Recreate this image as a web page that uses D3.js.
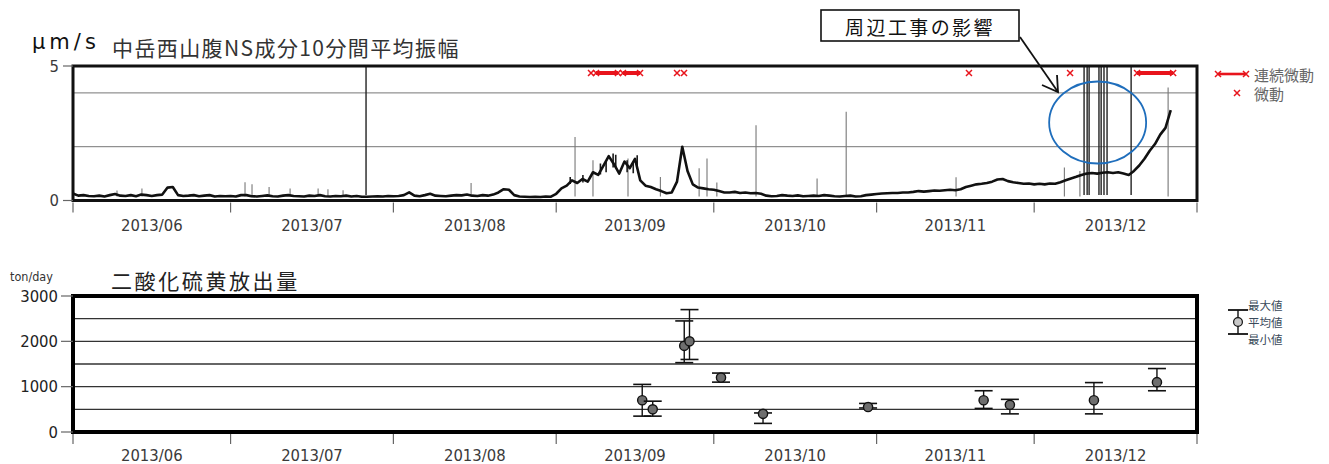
<!DOCTYPE html>
<html>
<head>
<meta charset="utf-8">
<script src="https://cdn.jsdelivr.net/npm/d3@7"></script>
<style>
    body { margin: 0; background: #fff; }
    svg { display: block; font-family: "DejaVu Sans Condensed", "DejaVu Sans", sans-serif; }
    .jp { font-family: "Noto Sans CJK JP", sans-serif; }
</style>
</head>
<body>
<svg id="chart" width="1329" height="464"></svg>
<script>
// month boundaries and labels
const monthTicks = ["2013-06-01", "2013-07-01", "2013-08-01", "2013-09-01", "2013-10-01", "2013-11-01", "2013-12-01", "2014-01-01"];
const monthLabels = ["2013/06", "2013/07", "2013/08", "2013/09", "2013/10", "2013/11", "2013/12"];

// daily level of the 10-min mean amplitude (um/s)
const ampJun = [0.26, 0.18, 0.2, 0.17, 0.16, 0.18, 0.15, 0.2, 0.24, 0.18, 0.17, 0.2, 0.16, 0.22, 0.2, 0.17, 0.2, 0.22, 0.48, 0.5,
    0.2, 0.17, 0.18, 0.2, 0.16, 0.18, 0.2, 0.15, 0.17, 0.16];
const ampJul = [0.17, 0.15, 0.2, 0.2, 0.16, 0.15, 0.17, 0.19, 0.16, 0.15, 0.18, 0.2, 0.17, 0.16, 0.15, 0.18, 0.17, 0.2, 0.16, 0.15,
    0.17, 0.16, 0.18, 0.15, 0.17, 0.14, 0.14, 0.15, 0.16, 0.15, 0.17];
const ampAug = [0.16, 0.17, 0.2, 0.3, 0.18, 0.16, 0.2, 0.25, 0.18, 0.17, 0.16, 0.18, 0.2, 0.19, 0.22, 0.18, 0.17, 0.2, 0.18, 0.22,
    0.3, 0.42, 0.4, 0.2, 0.15, 0.14, 0.13, 0.14, 0.13, 0.15, 0.14];
const ampSep = [0.25, 0.45, 0.55, 0.75, 0.65, 0.8, 0.7, 1.05, 0.95, 1.3, 1.65, 1.35, 1.0, 1.45, 1.2, 1.55, 0.75, 0.55, 0.5, 0.42,
    0.35, 0.27, 0.3, 0.7, 2.0, 1.1, 0.6, 0.48, 0.45, 0.42];
const ampOct = [0.4, 0.35, 0.3, 0.3, 0.32, 0.28, 0.3, 0.27, 0.28, 0.25, 0.18, 0.16, 0.17, 0.2, 0.18, 0.17, 0.19, 0.16, 0.17, 0.18,
    0.17, 0.2, 0.18, 0.16, 0.15, 0.17, 0.18, 0.15, 0.16, 0.2, 0.22];
const ampNov = [0.24, 0.26, 0.27, 0.28, 0.28, 0.3, 0.3, 0.32, 0.35, 0.33, 0.35, 0.37, 0.36, 0.38, 0.4, 0.38, 0.42, 0.5, 0.55, 0.6,
    0.62, 0.65, 0.7, 0.78, 0.8, 0.72, 0.68, 0.65, 0.62, 0.63];
const ampDec = [0.6, 0.62, 0.6, 0.63, 0.62, 0.68, 0.75, 0.82, 0.88, 0.95, 1.0, 1.02, 1.0, 1.03, 1.05, 1.02, 1.05, 1.0, 0.95, 1.1,
    1.3, 1.55, 1.85, 2.1, 2.45, 2.7, 3.36];

// short isolated spikes (thin grey)
const ampSpikes = [
    ["2013-06-09T09", 0.37], ["2013-06-14T03", 0.45], ["2013-07-03T18", 0.68], ["2013-07-05T02", 0.6],
    ["2013-07-08T08", 0.5], ["2013-07-12T08", 0.45], ["2013-07-17T16", 0.45], ["2013-07-19T13", 0.42],
    ["2013-07-22T10", 0.38], ["2013-08-15T19", 0.65], ["2013-09-04T14", 2.36], ["2013-09-08T00", 1.5],
    ["2013-09-14T16", 1.56], ["2013-09-20T20", 0.87], ["2013-09-28T05", 1.2], ["2013-09-29T17", 1.56],
    ["2013-10-01T14", 0.67], ["2013-10-09T01", 2.8], ["2013-10-20T16", 0.82], ["2013-10-26T05", 3.3],
    ["2013-11-16T03", 0.86], ["2013-12-06T18", 1.23], ["2013-12-09T17", 1.1], ["2013-12-26T12", 4.2]
];
// short bursts inside the active band (dark)
const ampBursts = [
    ["2013-09-03T16", 0.87], ["2013-09-06T02", 0.95], ["2013-09-09T10", 1.38], ["2013-09-10T12", 1.5],
    ["2013-09-11T20", 1.75], ["2013-09-12T08", 1.7], ["2013-09-14T12", 1.5], ["2013-09-15T16", 1.45],
    ["2013-09-16T10", 1.68]
];
// off-scale values (clipped at the top)
const ampOffScale = ["2013-07-26T19", "2013-12-10T12", "2013-12-11T02", "2013-12-11T11", "2013-12-13T08",
    "2013-12-13T18", "2013-12-14T07", "2013-12-14T21", "2013-12-19T11"];

// tremor events
const tremorPoints = ["2013-09-07T15", "2013-09-24T00", "2013-09-25T08", "2013-11-18T14", "2013-12-07T20"];
const tremorSpans = [["2013-09-08T14", "2013-09-12T18"], ["2013-09-13T17", "2013-09-16T23"], ["2013-12-20T14", "2013-12-27T11"]];

// SO2 emission (ton/day)
const so2Dates = ["2013-09-17T09", "2013-09-19T09", "2013-09-25T09", "2013-09-26T09", "2013-10-02T09", "2013-10-10T09", "2013-10-30T09",
    "2013-11-21T09", "2013-11-26T09", "2013-12-12T09", "2013-12-24T09"];
const so2Mean = [700, 500, 1900, 2000, 1200, 400, 550, 700, 600, 700, 1100];
const so2Max = [1050, 680, 2450, 2700, 1300, 420, 630, 910, 720, 1090, 1400];
const so2Min = [350, 350, 1530, 1600, 1100, 190, 530, 520, 400, 400, 910];

const ampTicks = [0, 5];
const ampGrid = [2, 4];
const so2Ticks = [0, 1000, 2000, 3000];
const so2Grid = [500, 1000, 1500, 2000, 2500];

const ctx = {
    LEFT: 73, RIGHT: 1197,
    TOP1: 66, BOT1: 200.5,
    TOP2: 296, BOT2: 432,
    RED: "#e8141c",
    TEXT: "#3a3a3a",
};

const svg = d3.select('#chart');
const parseDay = d3.timeParse("%Y-%m-%d");
const parseHour = d3.timeParse("%Y-%m-%dT%H");
function parseT(s) {
    return s.length > 10 ? parseHour(s) : parseDay(s);
}

const x = d3.scaleTime()
    .domain([parseT(monthTicks[0]), parseT(monthTicks[monthTicks.length - 1])])
    .range([ctx.LEFT, ctx.RIGHT]);
const y1 = d3.scaleLinear().domain([0, 5]).range([ctx.BOT1, ctx.TOP1]);
const y2 = d3.scaleLinear().domain([0, 3000]).range([ctx.BOT2, ctx.TOP2]);
const cross = "M-3,-3L3,3M-3,3L3,-3";

main();

function main() {
    drawMonthAxis(ctx.BOT1, 225);
    drawMonthAxis(ctx.BOT2, 455);
    drawAmplitude();
    drawSO2();
    drawCallout();
}

function drawMonthAxis(yBase, yLabel) {
    const g = svg.append("g");
    g.selectAll("line.mtick")
        .data(monthTicks)
        .enter().append("line")
        .attr("x1", d => x(parseT(d))).attr("x2", d => x(parseT(d)))
        .attr("y1", yBase + 2).attr("y2", yBase + 12)
        .attr("stroke", "#666").attr("stroke-width", 1.2);

    g.selectAll("text.mlab")
        .data(monthLabels)
        .enter().append("text")
        .attr("x", (d, i) => (x(parseT(monthTicks[i])) + x(parseT(monthTicks[i + 1]))) / 2)
        .attr("y", yLabel)
        .attr("text-anchor", "middle")
        .attr("dominant-baseline", "central")
        .attr("font-size", "16.5px")
        .attr("fill", ctx.TEXT)
        .text(d => d);
}

function drawAmplitude() {
    const allMonths = [ampJun, ampJul, ampAug, ampSep, ampOct, ampNov, ampDec];
    const start = parseT(monthTicks[0]);
    const series = [].concat(...allMonths).map((v, i) => ({ date: d3.timeDay.offset(start, i), v: v }));

    svg.append("clipPath").attr("id", "clip1")
        .append("rect")
        .attr("x", ctx.LEFT).attr("y", ctx.TOP1)
        .attr("width", ctx.RIGHT - ctx.LEFT).attr("height", ctx.BOT1 - ctx.TOP1);

    // grid
    svg.selectAll("line.grid1")
        .data(ampGrid)
        .enter().append("line")
        .attr("x1", ctx.LEFT).attr("x2", ctx.RIGHT)
        .attr("y1", d => y1(d)).attr("y2", d => y1(d))
        .attr("stroke", "#777").attr("stroke-width", 1);

    const plot = svg.append("g").attr("clip-path", "url(#clip1)");

    plot.selectAll("line.spike")
        .data(ampSpikes)
        .enter().append("line")
        .attr("x1", d => x(parseT(d[0]))).attr("x2", d => x(parseT(d[0])))
        .attr("y1", y1(0.15)).attr("y2", d => y1(d[1]))
        .attr("stroke", "#777").attr("stroke-width", 1.1);

    plot.selectAll("line.burst")
        .data(ampBursts)
        .enter().append("line")
        .attr("x1", d => x(parseT(d[0]))).attr("x2", d => x(parseT(d[0])))
        .attr("y1", d => y1(d[1] * 0.7)).attr("y2", d => y1(d[1]))
        .attr("stroke", "#1a1a1a").attr("stroke-width", 1.6);

    plot.selectAll("line.offscale")
        .data(ampOffScale)
        .enter().append("line")
        .attr("x1", d => x(parseT(d))).attr("x2", d => x(parseT(d)))
        .attr("y1", y1(0.2)).attr("y2", y1(6))
        .attr("stroke", "#222").attr("stroke-width", 1.4);

    const line = d3.line()
        .x(d => x(d.date))
        .y(d => y1(d.v));

    plot.append("path")
        .datum(series)
        .attr("d", line)
        .attr("fill", "none")
        .attr("stroke", "#111")
        .attr("stroke-width", 2.6)
        .attr("stroke-linejoin", "round");

    // tremor marks
    const yT = ctx.TOP1 + 7;
    plot.selectAll("line.span")
        .data(tremorSpans)
        .enter().append("line")
        .attr("x1", d => x(parseT(d[0]))).attr("x2", d => x(parseT(d[1])))
        .attr("y1", yT).attr("y2", yT)
        .attr("stroke", ctx.RED).attr("stroke-width", 4);
    plot.selectAll("path.spanEnd")
        .data([].concat(...tremorSpans))
        .enter().append("path")
        .attr("transform", d => `translate(${x(parseT(d))},${yT})`)
        .attr("d", cross)
        .attr("stroke", ctx.RED).attr("stroke-width", 1.5);
    plot.selectAll("path.tpt")
        .data(tremorPoints)
        .enter().append("path")
        .attr("transform", d => `translate(${x(parseT(d))},${yT})`)
        .attr("d", cross)
        .attr("stroke", ctx.RED).attr("stroke-width", 1.5);

    // frame
    svg.append("rect")
        .attr("x", ctx.LEFT).attr("y", ctx.TOP1)
        .attr("width", ctx.RIGHT - ctx.LEFT).attr("height", ctx.BOT1 - ctx.TOP1)
        .attr("fill", "none").attr("stroke", "#111").attr("stroke-width", 3);

    // y axis
    svg.selectAll("line.yt1")
        .data(ampTicks)
        .enter().append("line")
        .attr("x1", ctx.LEFT - 10).attr("x2", ctx.LEFT)
        .attr("y1", d => y1(d)).attr("y2", d => y1(d))
        .attr("stroke", "#666").attr("stroke-width", 1.2);
    svg.selectAll("text.yl1")
        .data(ampTicks)
        .enter().append("text")
        .attr("x", ctx.LEFT - 14).attr("y", d => y1(d))
        .attr("text-anchor", "end").attr("dominant-baseline", "central")
        .attr("font-size", "16.5px").attr("fill", ctx.TEXT)
        .text(d => d);

    svg.append("text")
        .attr("x", 32).attr("y", 49)
        .attr("font-family", "DejaVu Sans")
        .attr("font-size", "21px").attr("letter-spacing", "4px")
        .attr("fill", "#111")
        .text("μm/s");

    svg.append("text").attr("class", "jp")
        .attr("x", 112).attr("y", 56)
        .attr("font-size", "21px").attr("letter-spacing", "1.4px")
        .attr("fill", "#333")
        .text("中岳西山腹NS成分10分間平均振幅");

    // legend
    const lg = svg.append("g");
    lg.append("line")
        .attr("x1", 1218).attr("x2", 1246).attr("y1", 74).attr("y2", 74)
        .attr("stroke", ctx.RED).attr("stroke-width", 2.6);
    lg.selectAll("path.lgx")
        .data([[1218, 74], [1246, 74], [1237, 93]])
        .enter().append("path")
        .attr("transform", d => `translate(${d[0]},${d[1]})`)
        .attr("d", cross)
        .attr("stroke", ctx.RED).attr("stroke-width", 1.5);
    lg.selectAll("text")
        .data([["連続微動", 74], ["微動", 93]])
        .enter().append("text").attr("class", "jp")
        .attr("x", 1254).attr("y", d => d[1])
        .attr("dominant-baseline", "central")
        .attr("font-size", "15px").attr("fill", "#666")
        .text(d => d[0]);
}

function drawSO2() {
    const pts = so2Dates.map((d, i) => ({ date: parseT(d), mean: so2Mean[i], max: so2Max[i], min: so2Min[i] }));

    svg.selectAll("line.grid2")
        .data(so2Grid)
        .enter().append("line")
        .attr("x1", ctx.LEFT).attr("x2", ctx.RIGHT)
        .attr("y1", d => y2(d)).attr("y2", d => y2(d))
        .attr("stroke", "#333").attr("stroke-width", 1.4);

    const capW = 9;
    const g = svg.append("g").selectAll("g")
        .data(pts)
        .enter().append("g");
    g.append("line")
        .attr("x1", d => x(d.date)).attr("x2", d => x(d.date))
        .attr("y1", d => y2(d.min)).attr("y2", d => y2(d.max))
        .attr("stroke", "#111").attr("stroke-width", 1.4);
    g.append("line")
        .attr("x1", d => x(d.date) - capW).attr("x2", d => x(d.date) + capW)
        .attr("y1", d => y2(d.max)).attr("y2", d => y2(d.max))
        .attr("stroke", "#111").attr("stroke-width", 1.6);
    g.append("line")
        .attr("x1", d => x(d.date) - capW).attr("x2", d => x(d.date) + capW)
        .attr("y1", d => y2(d.min)).attr("y2", d => y2(d.min))
        .attr("stroke", "#111").attr("stroke-width", 1.6);
    g.append("circle")
        .attr("cx", d => x(d.date)).attr("cy", d => y2(d.mean))
        .attr("r", 4.6)
        .attr("fill", "#6e6e6e").attr("stroke", "#111").attr("stroke-width", 1.4);

    svg.append("rect")
        .attr("x", ctx.LEFT).attr("y", ctx.TOP2)
        .attr("width", ctx.RIGHT - ctx.LEFT).attr("height", ctx.BOT2 - ctx.TOP2)
        .attr("fill", "none").attr("stroke", "#000").attr("stroke-width", 4);

    svg.selectAll("line.yt2")
        .data(so2Ticks)
        .enter().append("line")
        .attr("x1", ctx.LEFT - 12).attr("x2", ctx.LEFT)
        .attr("y1", d => y2(d)).attr("y2", d => y2(d))
        .attr("stroke", "#666").attr("stroke-width", 1.2);
    svg.selectAll("text.yl2")
        .data(so2Ticks)
        .enter().append("text")
        .attr("x", ctx.LEFT - 15).attr("y", d => y2(d))
        .attr("text-anchor", "end").attr("dominant-baseline", "central")
        .attr("font-size", "16.5px").attr("fill", "#222")
        .text(d => d);

    svg.append("text")
        .attr("x", 10).attr("y", 281)
        .attr("font-size", "12.5px").attr("fill", "#333")
        .text("ton/day");

    svg.append("text").attr("class", "jp")
        .attr("x", 111).attr("y", 289)
        .attr("font-size", "21px").attr("letter-spacing", "2.6px")
        .attr("fill", "#222")
        .text("二酸化硫黄放出量");

    // legend
    const lx = 1238;
    const lg = svg.append("g");
    lg.append("line").attr("x1", lx).attr("x2", lx).attr("y1", 310).attr("y2", 334)
        .attr("stroke", "#111").attr("stroke-width", 1.4);
    [310, 334].forEach(yy => {
        lg.append("line").attr("x1", lx - 10).attr("x2", lx + 10).attr("y1", yy).attr("y2", yy)
            .attr("stroke", "#111").attr("stroke-width", 1.8);
    });
    lg.append("circle").attr("cx", lx).attr("cy", 322).attr("r", 4.4)
        .attr("fill", "#c8c8c8").attr("stroke", "#111").attr("stroke-width", 1.2);
    lg.selectAll("text")
        .data([["最大値", 305], ["平均値", 322], ["最小値", 339]])
        .enter().append("text").attr("class", "jp")
        .attr("x", 1248).attr("y", d => d[1])
        .attr("dominant-baseline", "central")
        .attr("font-size", "11.5px").attr("fill", "#3a4a5a")
        .text(d => d[0]);
}

function drawCallout() {
    const g = svg.append("g");
    g.append("rect")
        .attr("x", 821).attr("y", 10).attr("width", 198).attr("height", 31)
        .attr("fill", "#fff").attr("stroke", "#111").attr("stroke-width", 1.6);
    g.append("text").attr("class", "jp")
        .attr("x", 920).attr("y", 26)
        .attr("text-anchor", "middle").attr("dominant-baseline", "central")
        .attr("font-size", "19px").attr("letter-spacing", "2.4px")
        .attr("fill", "#111")
        .text("周辺工事の影響");

    // arrow
    g.append("line").attr("x1", 1020).attr("y1", 37).attr("x2", 1058).attr("y2", 92)
        .attr("stroke", "#111").attr("stroke-width", 1.8);
    g.append("path").attr("d", "M1042,85L1058,92L1057,75")
        .attr("fill", "none").attr("stroke", "#111").attr("stroke-width", 1.8);

    // ellipse round the construction noise
    g.append("ellipse")
        .attr("cx", x(parseT("2013-12-13T02"))).attr("cy", y1(2.9))
        .attr("rx", 48.5).attr("ry", 41)
        .attr("fill", "none").attr("stroke", "#1f6ebc").attr("stroke-width", 1.8);
}
</script>
</body>
</html>
